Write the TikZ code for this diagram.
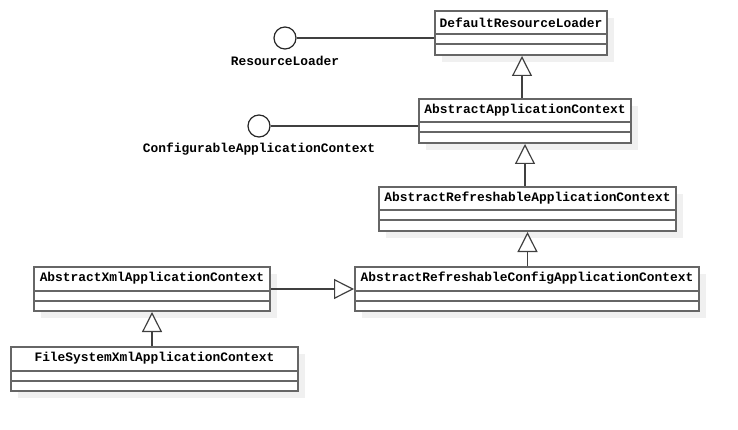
\documentclass[tikz,border=0pt]{standalone}
\usepackage{fontspec}
\setmonofont{Liberation Mono}
\usetikzlibrary{arrows.meta,shadows,calc}
\begin{document}
\begin{tikzpicture}[x=1pt,y=-1pt]
\tikzset{
  cls/.style={draw=black!60, line width=2pt, fill=white, anchor=north west, inner sep=0pt,
    drop shadow={shadow xshift=7pt, shadow yshift=-7pt, fill=black!6, opacity=1}},
  ttl/.style={font=\ttfamily\bfseries\fontsize{12.9}{15}\selectfont, inner sep=0pt},
  divider/.style={draw=black!60, line width=2pt},
  iface/.style={circle, draw=black!85, line width=1.2pt, fill=white, minimum size=22pt, inner sep=0pt},
  assoc/.style={draw=black!75, line width=1.2pt},
  inh/.style={draw=black!75, line width=1.2pt, -{Triangle[length=20pt, width=20pt, fill=white]}},
}
\useasboundingbox (0,0) rectangle (738,430);
\newcommand\umlclass[5]{%
  \node[cls, minimum width=#4pt, minimum height=44pt] (#1) at (#2,#3) {};
  \node[ttl] (#1-t) at ($(#1.north)+(0,12.5)$) {#5};
  \draw[divider] ($(#1.north west)+(0,24.5)$) -- ($(#1.north east)+(0,24.5)$);
  \draw[divider] ($(#1.north west)+(0,34.5)$) -- ($(#1.north east)+(0,34.5)$);
}
\umlclass{dr}{434}{10}{172}{DefaultResourceLoader}
\umlclass{aac}{418}{98}{212}{AbstractApplicationContext}
\umlclass{arac}{378}{186}{297}{AbstractRefreshableApplicationContext}
\umlclass{arcac}{354}{266}{344}{AbstractRefreshableConfigApplicationContext}
\umlclass{axac}{33}{266}{236}{AbstractXmlApplicationContext}
\umlclass{fsx}{10}{346}{287}{FileSystemXmlApplicationContext}

\node[iface] (rl) at (285,38) {};
\node[ttl] (rl-t) at (285,61) {ResourceLoader};
\node[iface] (cac) at (259,126) {};
\node[ttl] (cac-t) at (259,149) {ConfigurableApplicationContext};

\draw[assoc] (rl.east) -- (rl.east -| dr.west);
\draw[assoc] (cac.east) -- (cac.east -| aac.west);

\draw[inh] ([xshift=-3pt]aac.north) -- ([xshift=-3pt]aac.north |- dr.south);
\draw[inh] (arac.north -| aac.south) -- (aac.south);
\draw[inh] (arcac.north -| arac.south) -- (arac.south);
\draw[inh] (axac.east) -- (axac.east -| arcac.west);
\draw[inh] (fsx.north -| axac.south) -- (axac.south);
\end{tikzpicture}
\end{document}
